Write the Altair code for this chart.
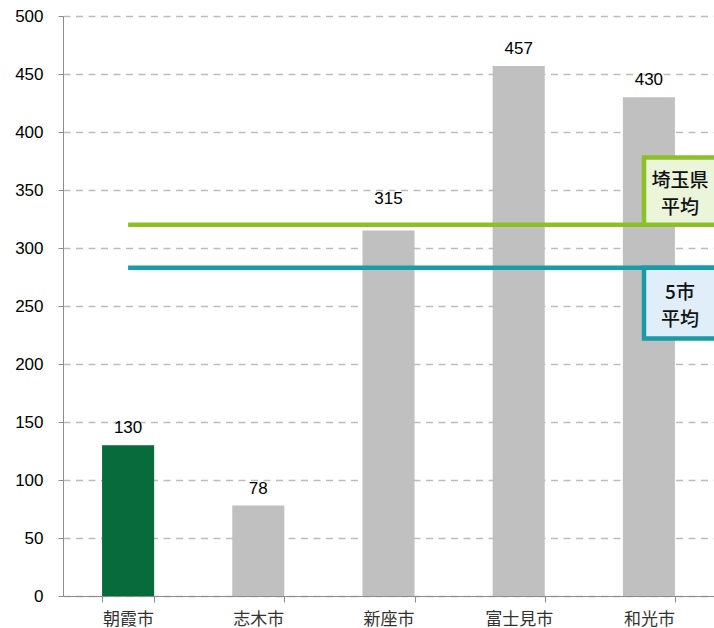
import altair as alt
import pandas as pd

cities = ["朝霞市", "志木市", "新座市", "富士見市", "和光市"]
values = [130, 78, 315, 457, 430]
highlight = ["yes", "no", "no", "no", "no"]

avg_names = ["埼玉県平均", "5市平均"]
avg_values = [320, 283]
avg_box_top = [378, 283]
avg_box_bottom = [320, 222]
avg_text_lines = [["埼玉県", "平均"], ["5市", "平均"]]
avg_colors = ["#8dc026", "#1b9ba7"]
avg_fills = ["#ebf5d9", "#dfeef9"]

bars_df = pd.DataFrame({"city": cities, "value": values, "hl": highlight})
avg_df = pd.DataFrame({
    "name": avg_names,
    "value": avg_values,
    "top": avg_box_top,
    "bottom": avg_box_bottom,
    "mid": [(a + b) / 2 for a, b in zip(avg_box_top, avg_box_bottom)],
    "lines": avg_text_lines,
    "color": avg_colors,
    "fill": avg_fills,
    "city": [cities[0]] * 2,
})

W, H = 651, 580

xenc = alt.X("city:N", sort=cities, title=None,
             scale=alt.Scale(paddingInner=0.6, paddingOuter=0.3),
             axis=alt.Axis(labelAngle=0, tickBand="extent", tickSize=6,
                           tickColor="#8c8c8c", domainColor="#8c8c8c",
                           labelFont="Noto Sans CJK JP", labelFontSize=17,
                           labelColor="#333333", labelPadding=9, grid=False))
yscale = alt.Scale(domain=[0, 500], nice=False)
yenc = alt.Y("value:Q", scale=yscale, title=None,
             axis=alt.Axis(values=list(range(0, 501, 50)), tickSize=5,
                           tickColor="#8c8c8c", domainColor="#8c8c8c",
                           grid=True, gridDash=[7, 5.5], gridColor="#bdbdbd",
                           gridWidth=1.3,
                           labelFont="Liberation Sans", labelFontSize=17,
                           labelColor="#000000", labelPadding=15))

bars = alt.Chart(bars_df).mark_bar().encode(
    x=xenc, y=yenc,
    color=alt.Color("hl:N", scale=alt.Scale(domain=["yes", "no"], range=["#076b3b", "#c0c0c0"]), legend=None),
)

labels = alt.Chart(bars_df).mark_text(
    baseline="alphabetic", dy=-12, font="Liberation Sans", fontSize=17, color="#000000"
).encode(
    x=alt.X("city:N", sort=cities), y=alt.Y("value:Q", scale=yscale), text="value:Q"
).transform_filter(alt.datum.city != "新座市")

labels_315 = alt.Chart(bars_df).mark_text(
    baseline="alphabetic", dy=-27, font="Liberation Sans", fontSize=17, color="#000000"
).encode(
    x=alt.X("city:N", sort=cities), y=alt.Y("value:Q", scale=yscale), text="value:Q"
).transform_filter(alt.datum.city == "新座市")

lines = alt.Chart(avg_df).mark_rule(strokeWidth=4.5).encode(
    x=alt.X("city:N", sort=cities),
    x2=alt.value(W + 10),
    y=alt.Y("value:Q", scale=yscale),
    color=alt.Color("color:N", scale=None),
)

boxes = alt.Chart(avg_df).mark_rect(strokeWidth=4.5).encode(
    x=alt.value(581), x2=alt.value(W + 20),
    y=alt.Y("top:Q", scale=yscale), y2="bottom:Q",
    stroke=alt.Color("color:N", scale=None),
    fill=alt.Color("fill:N", scale=None),
)

box_text = alt.Chart(avg_df).mark_text(
    font="Noto Sans CJK JP", fontSize=19, fontWeight=500, color="#111111",
    lineHeight=27, baseline="middle", dy=-10
).encode(
    x=alt.value(617),
    y=alt.Y("mid:Q", scale=yscale),
    text="lines",
)

chart = alt.layer(bars, labels, labels_315, lines, boxes, box_text).properties(
    width=W, height=H,
    autosize=alt.AutoSizeParams(type="none"),
    padding={"left": 63, "top": 16, "right": 0, "bottom": 32},
).configure_view(stroke=None)

chart.save("out.html", embed_options={"renderer": "svg", "actions": False})
